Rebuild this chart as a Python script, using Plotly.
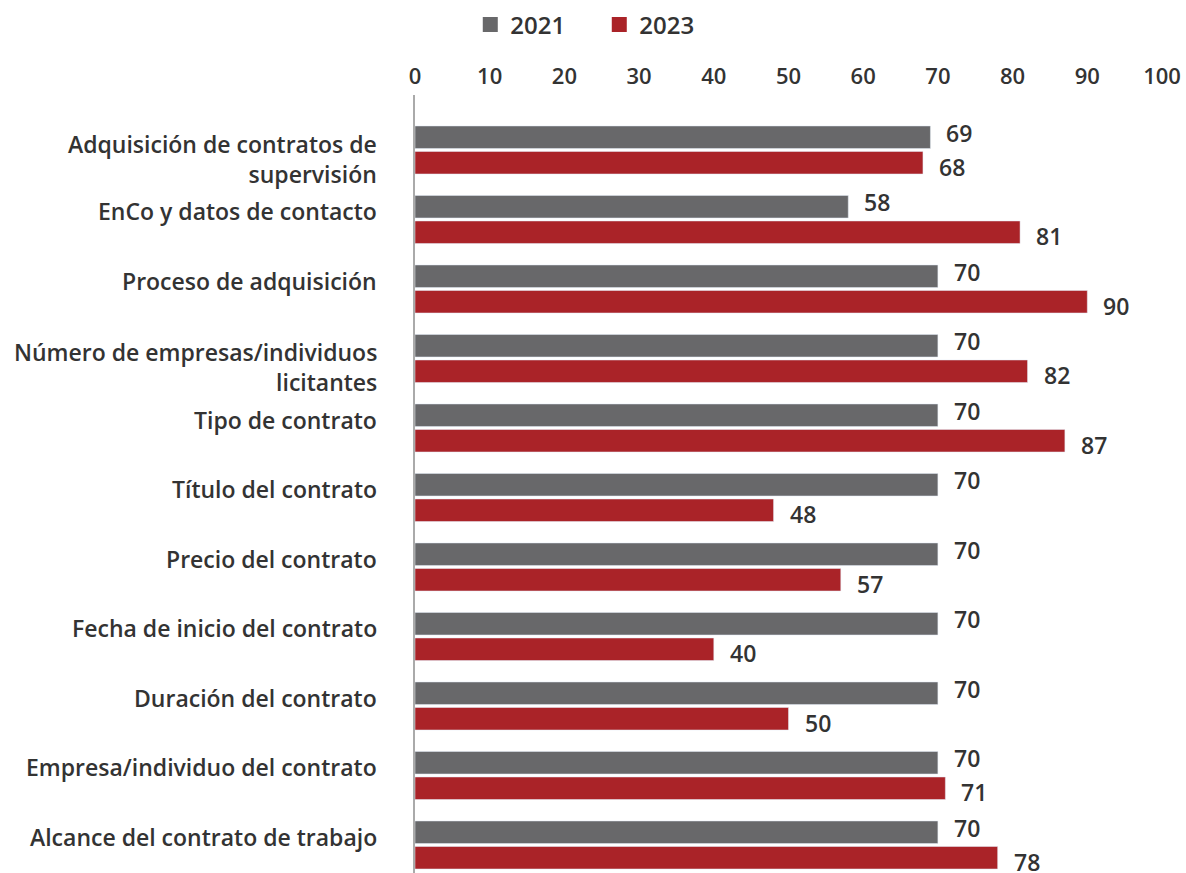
import plotly.graph_objects as go

categories = [
    "Adquisición de contratos de<br>supervisión",
    "EnCo y datos de contacto",
    "Proceso de adquisición",
    "Número de empresas/individuos<br>licitantes",
    "Tipo de contrato",
    "Título del contrato",
    "Precio del contrato",
    "Fecha de inicio del contrato",
    "Duración del contrato",
    "Empresa/individuo del contrato",
    "Alcance del contrato de trabajo",
]
values_2021 = [69, 58, 70, 70, 70, 70, 70, 70, 70, 70, 70]
values_2023 = [68, 81, 90, 82, 87, 48, 57, 40, 50, 71, 78]
x_ticks = [0, 10, 20, 30, 40, 50, 60, 70, 80, 90, 100]

FONT = "Open Sans"
TXT = "#333333"
GRAY = "#68686A"
RED = "#AA2328"
W = 600

idx = list(range(len(categories)))

fig = go.Figure()
for name, vals, col in [("2021", values_2021, GRAY), ("2023", values_2023, RED)]:
    fig.add_trace(go.Bar(
        name=name, y=idx, x=vals, orientation="h",
        marker_color=col, showlegend=False, cliponaxis=False,
    ))
for name, col in [("2021", GRAY), ("2023", RED)]:
    fig.add_trace(go.Scatter(
        name=name, x=[None], y=[None], mode="markers",
        marker=dict(symbol="square", size=15, color=col),
        showlegend=True,
    ))

annotations = []
# value labels
for vals, ys in [(values_2021, 17), (values_2023, -17)]:
    for i, v in zip(idx, vals):
        annotations.append(dict(
            x=v, y=i, xref="x", yref="y", text=str(v), showarrow=False,
            xanchor="left", yanchor="middle", xshift=14, yshift=ys,
            font=dict(family=FONT, size=23, color=TXT, weight=W),
        ))
# category labels
for i, lab in zip(idx, categories):
    two = "<br>" in lab
    annotations.append(dict(
        x=0, y=i, xref="paper", yref="y", text=lab, showarrow=False,
        xanchor="right", yanchor="middle", align="right",
        xshift=-36, yshift=(-9 if two else 8),
        font=dict(family=FONT, size=23, color=TXT, weight=W),
    ))

fig.update_layout(
    width=1186, height=873,
    margin=dict(l=415, r=24, t=95, b=0),
    paper_bgcolor="white", plot_bgcolor="white",
    barmode="group", bargap=0.266, bargroupgap=0.118,
    font=dict(family=FONT, color=TXT, size=20, weight=W),
    legend=dict(
        orientation="h", x=0.074, xanchor="left", y=1.09, yanchor="middle",
        xref="paper", yref="paper",
        font=dict(family=FONT, size=24, color=TXT, weight=W),
        entrywidth=84, entrywidthmode="pixels", traceorder="normal",
    ),
    xaxis=dict(
        side="top", range=[0, 100], tickvals=x_ticks,
        showgrid=False, zeroline=False, showline=False,
        ticks="", tickfont=dict(family=FONT, size=22, color=TXT, weight=W),
        ticklabelstandoff=6,
    ),
    yaxis=dict(
        tickvals=idx, showticklabels=False,
        range=[10.403, -0.791],
        showgrid=False, zeroline=False,
        showline=True, linecolor="#AAAAAA", linewidth=1.5,
        ticks="",
    ),
    annotations=annotations,
    showlegend=True,
)

fig.write_html(
    "out.html",
    config={"displayModeBar": False},
    post_script="document.body.style.margin='0';document.body.style.overflow='hidden';",
)
